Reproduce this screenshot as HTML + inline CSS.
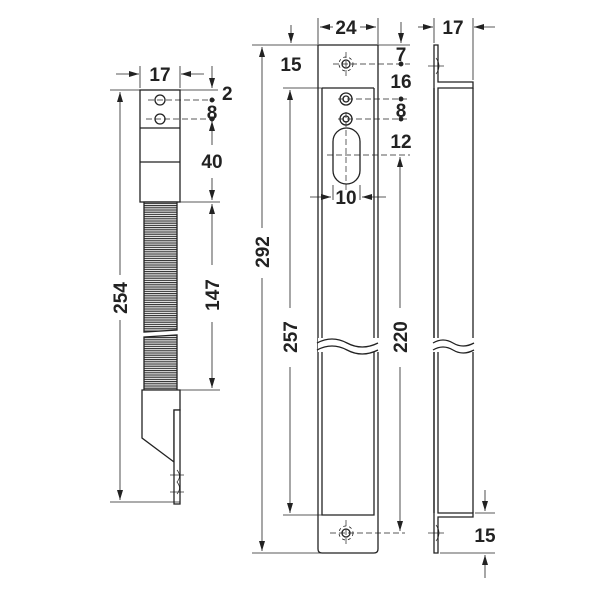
<!DOCTYPE html>
<html><head><meta charset="utf-8"><style>
html,body{margin:0;padding:0;background:#fff}
svg{display:block}
text{font-family:"Liberation Sans",Arial,sans-serif;font-weight:bold;font-size:19px;fill:#222}
</style></head><body>
<svg width="600" height="600" viewBox="0 0 600 600" xmlns="http://www.w3.org/2000/svg">
<defs>
<marker id="a" viewBox="0 0 10 6" refX="10" refY="3" markerWidth="10" markerHeight="6" orient="auto-start-reverse" markerUnits="userSpaceOnUse"><path d="M0,0L10,3L0,6z" fill="#222"/></marker>
<pattern id="th" width="4" height="2.2" patternUnits="userSpaceOnUse"><rect width="4" height="2.2" fill="#fff"/><line x1="0" y1="1" x2="4" y2="1" stroke="#333" stroke-width="1.2"/></pattern>
</defs>
<g stroke="#222" stroke-width="1.3" fill="none">
<rect x="140" y="90" width="40" height="112" fill="#fff"/>
<line x1="140" y1="128" x2="180" y2="128"/>
<line x1="140" y1="162" x2="180" y2="162"/>
<circle cx="160" cy="100" r="5"/><circle cx="160" cy="119" r="5"/>
<g stroke-width="0.7" stroke-dasharray="6,3"><line x1="148" y1="100" x2="215" y2="100"/><line x1="146" y1="119" x2="215" y2="119"/></g>
<path d="M144,202 L177,202 L177,330 L144,332 Z" fill="url(#th)"/>
<path d="M144,337 L177,335 L177,390 L144,390 Z" fill="url(#th)"/>
<path d="M142,390 L180,390 L180,410 L174,410 L174,462 L142,438 Z" fill="#fff"/>
<rect x="174" y="410" width="6" height="94" fill="#fff"/>
<g stroke-width="0.7"><line x1="170" y1="475" x2="184" y2="475"/><line x1="170" y1="492" x2="184" y2="492"/><path d="M177,470 q5,6 0,12 q5,6 0,12"/></g>
<g stroke-width="0.8">
<line x1="110" y1="90" x2="140" y2="90"/><line x1="110" y1="502" x2="180" y2="502"/>
<line x1="120" y1="92" x2="120" y2="275" marker-start="url(#a)"/><line x1="120" y1="320" x2="120" y2="500" marker-end="url(#a)"/>
<line x1="140" y1="66" x2="140" y2="88"/><line x1="180" y1="66" x2="180" y2="88"/>
<line x1="116" y1="74" x2="139" y2="74" marker-end="url(#a)"/><line x1="204" y1="74" x2="181" y2="74" marker-end="url(#a)"/>
<line x1="180" y1="90" x2="218" y2="90"/>
<line x1="212" y1="66" x2="212" y2="88" marker-end="url(#a)"/>
<line x1="180" y1="202" x2="220" y2="202"/><line x1="180" y1="390" x2="220" y2="390"/>
<line x1="212" y1="145" x2="212" y2="121" marker-end="url(#a)"/>
<line x1="212" y1="178" x2="212" y2="200" marker-end="url(#a)"/>
<line x1="212" y1="226" x2="212" y2="204" marker-end="url(#a)"/><line x1="212" y1="226" x2="212" y2="265"/>
<line x1="212" y1="322" x2="212" y2="388" marker-end="url(#a)"/>
</g>
<circle cx="212" cy="100" r="1.8" fill="#222"/><circle cx="212" cy="119" r="1.8" fill="#222"/>
<path d="M318,45 L378,45 L378,549 Q378,553 374,553 L322,553 Q318,553 318,549 Z" fill="#fff"/>
<path d="M322,88 L374,88 M322,88 L322,515 L374,515 L374,88"/>
<rect x="318" y="338" width="61" height="14" fill="#fff" stroke="none"/>
<path d="M317,343 q15,-8 30,0 t31,0 M317,350 q15,-8 30,0 t31,0"/>
<circle cx="346" cy="64" r="4"/><circle cx="346" cy="64" r="7" stroke-dasharray="3,3" stroke-width="0.8"/>
<circle cx="346" cy="99" r="3"/><circle cx="346" cy="99" r="6"/>
<circle cx="346" cy="119" r="3"/><circle cx="346" cy="119" r="6"/>
<rect x="333" y="128" width="27" height="56" rx="13.5" fill="#fff"/>
<circle cx="346" cy="533" r="4"/><circle cx="346" cy="533" r="7" stroke-dasharray="3,3" stroke-width="0.8"/>
<g stroke-width="0.7" stroke-dasharray="6,3">
<line x1="333" y1="64" x2="410" y2="64"/><line x1="346" y1="52" x2="346" y2="76"/>
<line x1="338" y1="99" x2="410" y2="99"/><line x1="338" y1="119" x2="410" y2="119"/>
<line x1="346" y1="112" x2="346" y2="192"/><line x1="327" y1="155" x2="410" y2="155"/>
<line x1="330" y1="533" x2="405" y2="533"/><line x1="346" y1="520" x2="346" y2="546"/>
</g>
<g stroke-width="0.8">
<line x1="252" y1="45" x2="318" y2="45"/><line x1="252" y1="553" x2="322" y2="553"/>
<line x1="262" y1="47" x2="262" y2="228" marker-start="url(#a)"/><line x1="262" y1="278" x2="262" y2="551" marker-end="url(#a)"/>
<line x1="283" y1="88" x2="322" y2="88"/><line x1="283" y1="515" x2="322" y2="515"/>
<line x1="290" y1="90" x2="290" y2="308" marker-start="url(#a)"/><line x1="290" y1="367" x2="290" y2="513" marker-end="url(#a)"/>
<line x1="291" y1="25" x2="291" y2="43" marker-end="url(#a)"/>
<line x1="318" y1="18" x2="318" y2="44"/><line x1="378" y1="18" x2="378" y2="44"/>
<line x1="320" y1="27" x2="333" y2="27" marker-start="url(#a)"/><line x1="360" y1="27" x2="376" y2="27" marker-end="url(#a)"/>
<line x1="378" y1="45" x2="410" y2="45"/>
<line x1="401" y1="22" x2="401" y2="43" marker-end="url(#a)"/>
<line x1="400" y1="157" x2="400" y2="308" marker-start="url(#a)"/><line x1="400" y1="367" x2="400" y2="531" marker-end="url(#a)"/>
<line x1="322" y1="190" x2="322" y2="205"/><line x1="374" y1="190" x2="374" y2="205"/>
<line x1="310" y1="197" x2="331" y2="197" marker-end="url(#a)"/><line x1="386" y1="197" x2="362" y2="197" marker-end="url(#a)"/>
<line x1="333" y1="185" x2="333" y2="200"/><line x1="360" y1="185" x2="360" y2="200"/>
</g>
<circle cx="401" cy="64" r="1.8" fill="#222"/><circle cx="401" cy="99" r="1.8" fill="#222"/><circle cx="401" cy="119" r="1.8" fill="#222"/>
<path d="M434,45 L438,45 L438,82 L473,82 L473,88 L438,88 L438,513 L473,513 L473,517 L438,517 L438,553 L434,553 Z" fill="#fff"/>
<line x1="434" y1="88" x2="434" y2="513"/>
<line x1="473" y1="88" x2="473" y2="513"/>
<rect x="433" y="338" width="42" height="14" fill="#fff" stroke="none"/>
<path d="M433,343 q10,-6 20,0 t21,0 M433,350 q10,-6 20,0 t21,0"/>
<g stroke-width="0.7"><line x1="428" y1="66" x2="444" y2="66"/><line x1="428" y1="533" x2="444" y2="533"/><path d="M436,58 q6,8 0,16 M436,525 q6,8 0,16"/></g>
<g stroke-width="0.8">
<line x1="434" y1="18" x2="434" y2="43"/><line x1="473" y1="18" x2="473" y2="80"/>
<line x1="418" y1="27" x2="433" y2="27" marker-end="url(#a)"/><line x1="495" y1="27" x2="474" y2="27" marker-end="url(#a)"/>
<line x1="475" y1="513" x2="495" y2="513"/><line x1="440" y1="553" x2="495" y2="553"/>
<line x1="485" y1="490" x2="485" y2="511" marker-end="url(#a)"/>
<line x1="485" y1="578" x2="485" y2="555" marker-end="url(#a)"/>
</g>
</g>
<text x="160" y="81" text-anchor="middle">17</text>
<text x="222" y="100">2</text>
<text x="212" y="119" text-anchor="middle">8</text>
<text x="212" y="168" text-anchor="middle">40</text>
<text transform="translate(127,298) rotate(-90)" text-anchor="middle">254</text>
<text transform="translate(219,295) rotate(-90)" text-anchor="middle">147</text>
<text x="346" y="34" text-anchor="middle">24</text>
<text x="291" y="71" text-anchor="middle">15</text>
<text x="401" y="61" text-anchor="middle">7</text>
<text x="401" y="88" text-anchor="middle">16</text>
<text x="401" y="117" text-anchor="middle">8</text>
<text x="401" y="148" text-anchor="middle">12</text>
<text x="346" y="204" text-anchor="middle">10</text>
<text transform="translate(269,252) rotate(-90)" text-anchor="middle">292</text>
<text transform="translate(297,337) rotate(-90)" text-anchor="middle">257</text>
<text transform="translate(407,337) rotate(-90)" text-anchor="middle">220</text>
<text x="453" y="34" text-anchor="middle">17</text>
<text x="485" y="542" text-anchor="middle">15</text>
</svg>
</body></html>
